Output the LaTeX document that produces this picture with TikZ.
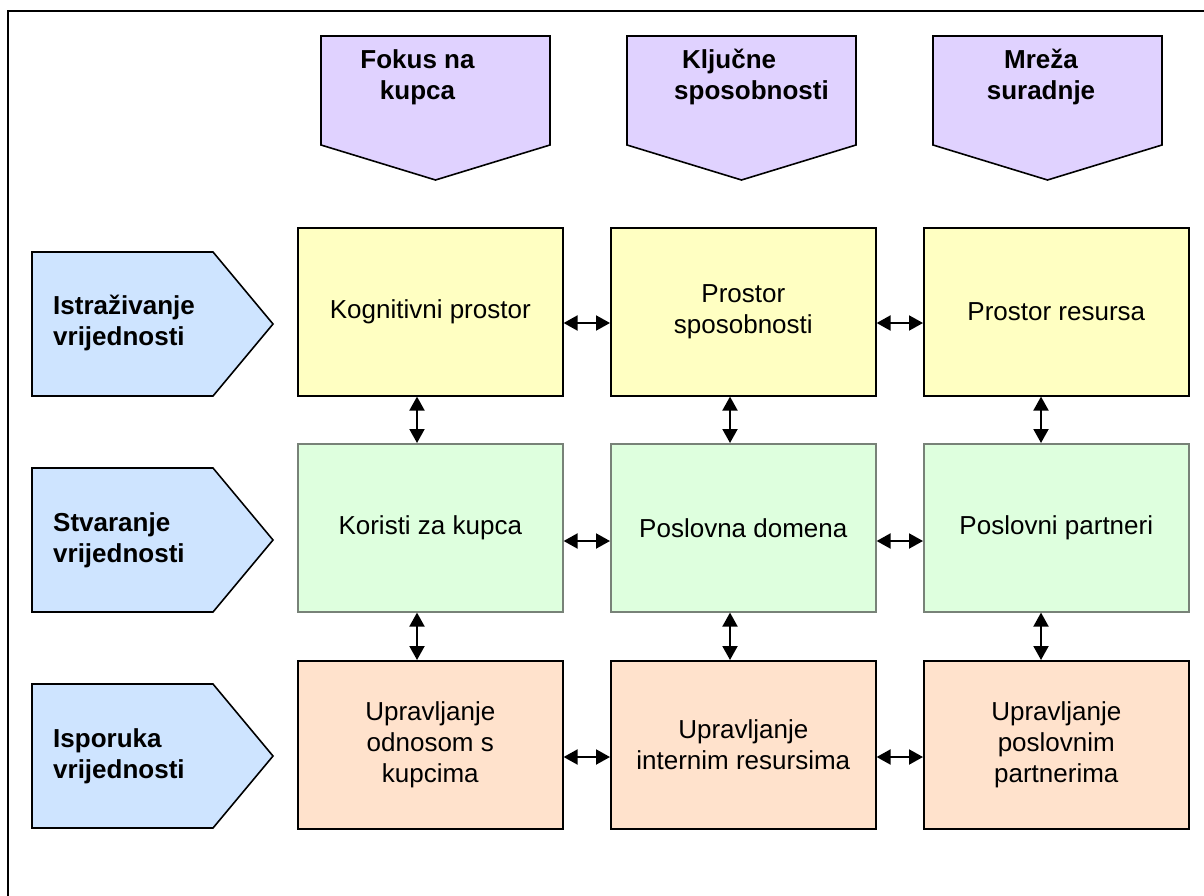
\documentclass[tikz,border=0pt]{standalone}
\usepackage{fontspec}
\setmainfont{Liberation Sans}
\usetikzlibrary{arrows.meta}
\definecolor{purp}{RGB}{224,210,255}
\definecolor{lblue}{RGB}{206,228,255}
\definecolor{yel}{RGB}{255,255,194}
\definecolor{grn}{RGB}{222,255,222}
\definecolor{ora}{RGB}{255,226,204}
\definecolor{grnedge}{RGB}{120,130,120}
\tikzset{
  pent/.style={draw=black,line width=1.6pt,line join=miter},
  hdr/.style={font=\fontsize{26}{31}\selectfont\bfseries,align=center,inner sep=0pt},
  rowlbl/.style={font=\fontsize{26}{31}\selectfont\bfseries,align=left,inner sep=0pt,anchor=west},
  cell/.style={draw=black,line width=1.6pt,minimum width=265pt,minimum height=168pt,inner sep=0pt,
     font=\fontsize{26}{31}\selectfont,align=center,anchor=north west},
  ycell/.style={cell,fill=yel},
  gcell/.style={cell,fill=grn,draw=grnedge},
  ocell/.style={cell,fill=ora},
  dbl/.style={line width=2pt,{Triangle[length=14pt,width=15pt]}-{Triangle[length=14pt,width=15pt]},shorten <=0pt,shorten >=0pt}
}
\begin{document}
\begin{tikzpicture}[x=1pt,y=-1pt]
\useasboundingbox (0,0) rectangle (1204,896);
% outer frame (only left and top visible)
\draw[line width=2pt] (8,900) -- (8,11) -- (1210,11);
% top pentagons
\foreach \x in {321,627,933}{
  \draw[pent,fill=purp] (\x,36) -- (\x+229,36) -- (\x+229,145) -- (\x+114.5,180) -- (\x,145) -- cycle;
}
\node[hdr] (c1) at (417.5,77) {Fokus na\\kupca};
\node[hdr,align=left,anchor=west] (c2) at (674,77) {\hspace*{8pt}Ključne\\sposobnosti};
\node[hdr] (c3) at (1041,77) {Mreža\\suradnje};
% left pentagons
\foreach \y in {252,468,684}{
  \draw[pent,fill=lblue] (32,\y) -- (213,\y) -- (273,\y+72) -- (213,\y+144) -- (32,\y+144) -- cycle;
}
\node[rowlbl] (r1) at (53,323) {Istraživanje\\vrijednosti};
\node[rowlbl] (r2) at (53,540) {Stvaranje\\vrijednosti};
\node[rowlbl] (r3) at (53,756) {Isporuka\\vrijednosti};
% arrow guide coordinates
\coordinate (vx1) at (417,0);
\coordinate (vx2) at (730,0);
\coordinate (vx3) at (1041,0);
\coordinate (hy1) at (0,323);
\coordinate (hy2) at (0,541);
\coordinate (hy3) at (0,757);
% cells
\node[ycell] (a1) at (297,227) {Kognitivni prostor};
\node[ycell] (a2) at (610,227) {Prostor\\sposobnosti};
\node[ycell] (a3) at (923,227) {Prostor resursa};
\node[gcell] (b1) at (297,443) {Koristi za kupca};
\node[gcell] (b2) at (610,443) {Poslovna domena};
\node[gcell] (b3) at (923,443) {Poslovni partneri};
\node[ocell] (d1) at (297,660) {Upravljanje\\odnosom s\\kupcima};
\node[ocell] (d2) at (610,660) {Upravljanje\\internim resursima};
\node[ocell] (d3) at (923,660) {Upravljanje\\poslovnim\\partnerima};
% horizontal arrows
\draw[dbl] (a1.east |- hy1) -- (a2.west |- hy1);
\draw[dbl] (a2.east |- hy1) -- (a3.west |- hy1);
\draw[dbl] (b1.east |- hy2) -- (b2.west |- hy2);
\draw[dbl] (b2.east |- hy2) -- (b3.west |- hy2);
\draw[dbl] (d1.east |- hy3) -- (d2.west |- hy3);
\draw[dbl] (d2.east |- hy3) -- (d3.west |- hy3);
% vertical arrows
\draw[dbl] (a1.south -| vx1) -- (b1.north -| vx1);
\draw[dbl] (a2.south -| vx2) -- (b2.north -| vx2);
\draw[dbl] (a3.south -| vx3) -- (b3.north -| vx3);
\draw[dbl] (b1.south -| vx1) -- (d1.north -| vx1);
\draw[dbl] (b2.south -| vx2) -- (d2.north -| vx2);
\draw[dbl] (b3.south -| vx3) -- (d3.north -| vx3);
\end{tikzpicture}
\end{document}
